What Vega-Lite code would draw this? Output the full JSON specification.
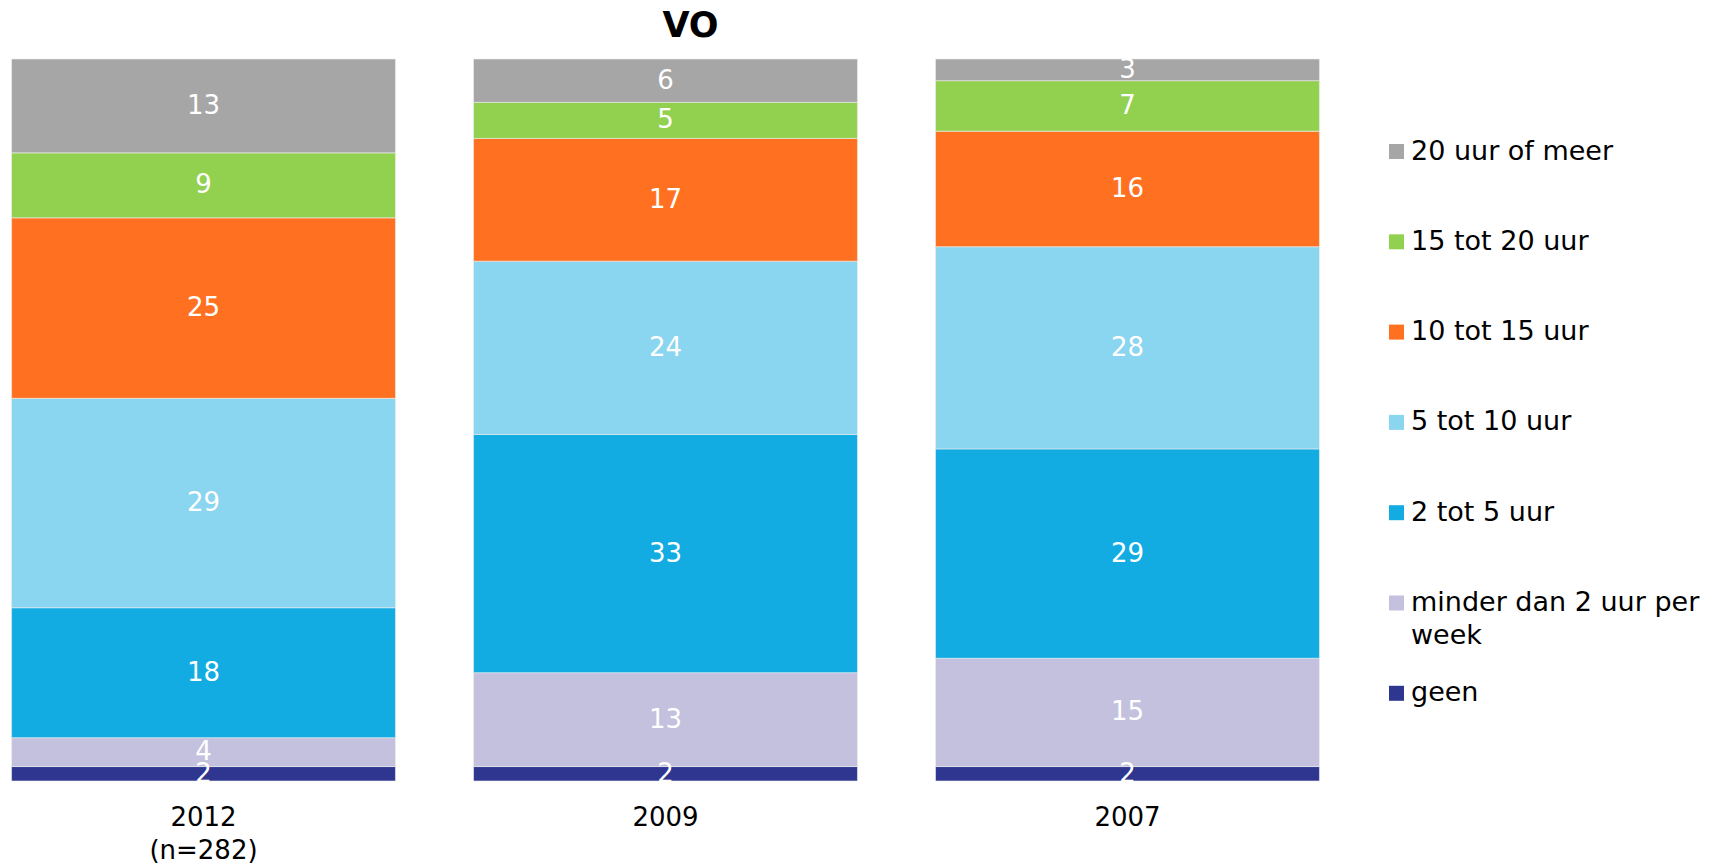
{
  "$schema": "https://vega.github.io/schema/vega-lite/v6.json",
  "width": 1331,
  "height": 722,
  "padding": {"top": 8, "left": 0, "right": 0, "bottom": 0},
  "background": "white",
  "title": {"text": "VO", "font": "DejaVu Sans", "fontSize": 35, "fontWeight": "bold", "color": "black", "dx": 25, "offset": 13},
  "config": {
    "view": {"stroke": null},
    "font": "DejaVu Sans",
    "style": {"guide-label": {"lineHeight": 33}}
  },
  "data": {"values": [
    {"jaar": "2012 (n=282)", "cat": "geen", "rank": 1, "v": 2},
    {"jaar": "2012 (n=282)", "cat": "minder dan 2 uur per week", "rank": 2, "v": 4},
    {"jaar": "2012 (n=282)", "cat": "2 tot 5 uur", "rank": 3, "v": 18},
    {"jaar": "2012 (n=282)", "cat": "5 tot 10 uur", "rank": 4, "v": 29},
    {"jaar": "2012 (n=282)", "cat": "10 tot 15 uur", "rank": 5, "v": 25},
    {"jaar": "2012 (n=282)", "cat": "15 tot 20 uur", "rank": 6, "v": 9},
    {"jaar": "2012 (n=282)", "cat": "20 uur of meer", "rank": 7, "v": 13},
    {"jaar": "2009", "cat": "geen", "rank": 1, "v": 2},
    {"jaar": "2009", "cat": "minder dan 2 uur per week", "rank": 2, "v": 13},
    {"jaar": "2009", "cat": "2 tot 5 uur", "rank": 3, "v": 33},
    {"jaar": "2009", "cat": "5 tot 10 uur", "rank": 4, "v": 24},
    {"jaar": "2009", "cat": "10 tot 15 uur", "rank": 5, "v": 17},
    {"jaar": "2009", "cat": "15 tot 20 uur", "rank": 6, "v": 5},
    {"jaar": "2009", "cat": "20 uur of meer", "rank": 7, "v": 6},
    {"jaar": "2007", "cat": "geen", "rank": 1, "v": 2},
    {"jaar": "2007", "cat": "minder dan 2 uur per week", "rank": 2, "v": 15},
    {"jaar": "2007", "cat": "2 tot 5 uur", "rank": 3, "v": 29},
    {"jaar": "2007", "cat": "5 tot 10 uur", "rank": 4, "v": 28},
    {"jaar": "2007", "cat": "10 tot 15 uur", "rank": 5, "v": 16},
    {"jaar": "2007", "cat": "15 tot 20 uur", "rank": 6, "v": 7},
    {"jaar": "2007", "cat": "20 uur of meer", "rank": 7, "v": 3}
  ]},
  "transform": [
    {"stack": "v", "groupby": ["jaar"], "sort": [{"field": "rank", "order": "ascending"}], "as": ["v0", "v1"]},
    {"calculate": "(datum.v0 + datum.v1) / 2", "as": "vmid"}
  ],
  "encoding": {
    "x": {
      "field": "jaar", "type": "nominal", "sort": ["2012 (n=282)", "2009", "2007"],
      "scale": {"paddingInner": 0.169, "paddingOuter": 0.025},
      "axis": {
        "title": null, "domain": false, "ticks": false, "labelAngle": 0,
        "labelFont": "DejaVu Sans", "labelFontSize": 26, "labelColor": "black",
        "labelPadding": 23, "labelLineHeight": 33, "labelBaseline": "top",
        "labelExpr": "datum.value == '2012 (n=282)' ? ['2012', '(n=282)'] : datum.label"
      }
    }
  },
  "layer": [
    {
      "mark": {"type": "bar", "stroke": "#eeeeee", "strokeWidth": 0.6},
      "encoding": {
        "y": {"field": "v0", "type": "quantitative", "scale": {"domain": [0, 100], "nice": false}, "axis": null},
        "y2": {"field": "v1"},
        "color": {
          "field": "cat", "type": "nominal",
          "scale": {
            "domain": ["20 uur of meer", "15 tot 20 uur", "10 tot 15 uur", "5 tot 10 uur", "2 tot 5 uur", "minder dan 2 uur per week", "geen"],
            "range": ["#A6A6A6", "#92D050", "#FF7121", "#8AD5F0", "#12ACE3", "#C4C1DE", "#2E3690"]
          },
          "legend": {
            "title": null, "orient": "right", "offset": -27, "padding": 79,
            "symbolType": "square", "symbolSize": 225, "symbolStrokeWidth": 0,
            "labelFont": "DejaVu Sans", "labelFontSize": 27, "labelColor": "black",
            "labelOffset": 1, "rowPadding": 29.3, "labelLimit": 400, "gridAlign": "all",
            "labelExpr": "datum.label == 'minder dan 2 uur per week' ? ['minder dan 2 uur per', 'week'] : datum.label"
          }
        }
      }
    },
    {
      "mark": {"type": "text", "color": "white", "font": "DejaVu Sans", "fontSize": 26, "baseline": "middle", "align": "center"},
      "encoding": {
        "y": {"field": "vmid", "type": "quantitative"},
        "text": {"field": "v", "type": "quantitative"}
      }
    }
  ]
}
